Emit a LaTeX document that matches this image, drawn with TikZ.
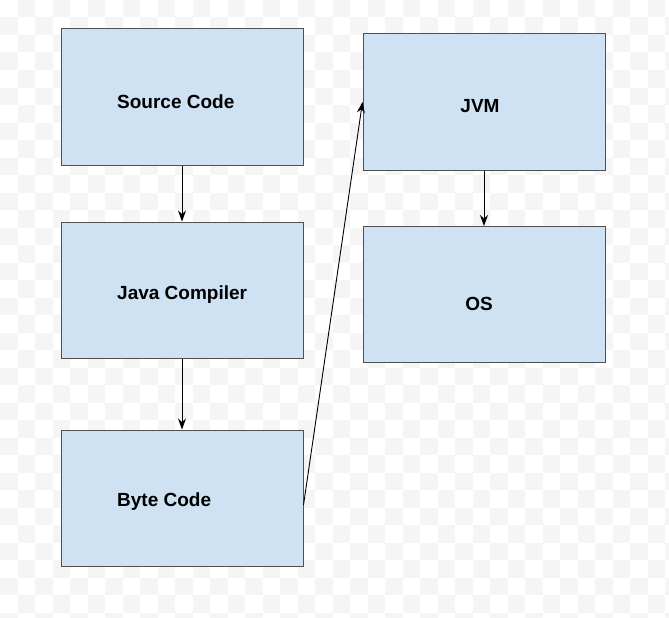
\documentclass[tikz,border=0pt]{standalone}
\usepackage{fontspec}
\setmainfont{Liberation Sans}
\usetikzlibrary{arrows.meta,positioning}
\definecolor{boxblue}{HTML}{CFE2F3}
\definecolor{boxline}{HTML}{505050}
\definecolor{checker}{HTML}{F5F5F5}
\tikzset{
 blockbox/.style={draw=boxline,fill=boxblue,line width=1pt,minimum width=242pt,minimum height=136pt,inner sep=0pt},
 blocktext/.style={font=\fontsize{19}{22}\selectfont\bfseries,inner sep=0pt},
}
\begin{document}
\begin{tikzpicture}[x=1pt,y=-1pt,>={Stealth[length=11pt,width=8pt]}]
 \useasboundingbox (0,0) rectangle (669,618);
 % transparency grid behind the drawing
 \fill[white] (0,0) rectangle (669,618);
 \foreach \i in {0,...,38}
  \foreach \j in {0,...,35}{
   \pgfmathparse{int(mod(\i+\j,2))}
   \ifnum\pgfmathresult=1
    \fill[checker] (\i*17.5,\j*17.5) rectangle ++(17.5,17.5);
   \fi
  }
 % boxes
 \node[blockbox] (src) at (182,97) {};
 \node[blockbox] (javac) at (182,290) {};
 \node[blockbox] (bytec) at (182,498) {};
 \node[blockbox] (jvm) at (484,102) {};
 \node[blockbox] (os) at (484,294.5) {};
 % labels
 \node[blocktext,anchor=west] (srcT) at (117,102) {Source Code};
 \node[blocktext,anchor=west] (javacT) at (117,295) {Java Compiler};
 \node[blocktext,anchor=west] (bytecT) at (117,502) {Byte Code};
 \node[blocktext] (jvmT) at (480,106) {JVM};
 \node[blocktext] (osT) at (479,304) {OS};
 % connectors
 \draw[->,line width=0.9pt] (src.south) -- (javac.north);
 \draw[->,line width=0.9pt] (javac.south) -- (bytec.north);
 \draw[->,line width=0.9pt] ([yshift=-7]bytec.east) -- (jvm.west);
 \draw[->,line width=0.9pt] (jvm.south) -- (os.north);
\end{tikzpicture}
\end{document}
